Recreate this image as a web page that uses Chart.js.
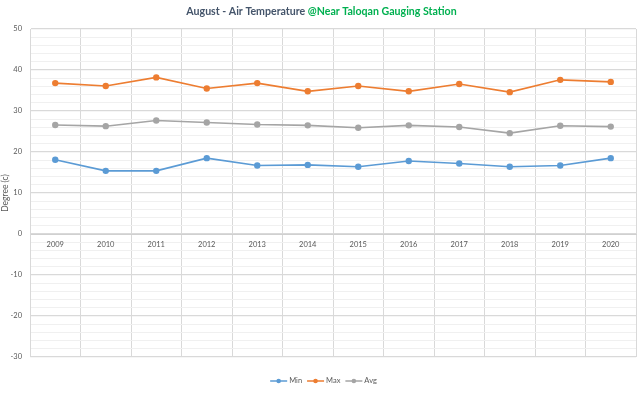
<!DOCTYPE html>
<html>
<head>
<meta charset="utf-8">
<script src="https://cdn.jsdelivr.net/npm/chart.js@4/dist/chart.umd.min.js"></script>
<style>
html,body{margin:0;padding:0;background:#fff;}
#wrap{width:643px;height:393px;position:relative;}
</style>
</head>
<body>
<div id="wrap"><canvas id="c" width="643" height="393"></canvas></div>
<script>
const years = ['2009','2010','2011','2012','2013','2014','2015','2016','2017','2018','2019','2020'];
const minVals = [18.1, 15.4, 15.4, 18.5, 16.7, 16.85, 16.4, 17.8, 17.2, 16.4, 16.7, 18.5];
const maxVals = [36.8, 36.1, 38.2, 35.5, 36.8, 34.8, 36.1, 34.8, 36.6, 34.6, 37.6, 37.1];
const avgVals = [26.6, 26.3, 27.7, 27.2, 26.7, 26.5, 25.9, 26.5, 26.1, 24.6, 26.4, 26.2];
const titleMain = 'August - Air Temperature ';
const titleSub = '@Near Taloqan Gauging Station';
const yTitle = 'Degree (c)';

const FONT = 'Lato, "Open Sans", sans-serif';

const titlePlugin = {
  id: 'twoTone',
  afterDraw(chart) {
    const ctx = chart.ctx;
    ctx.save();
    ctx.font = 'bold 10.6px ' + FONT;
    ctx.textBaseline = 'middle';
    ctx.textAlign = 'left';
    const w1 = ctx.measureText(titleMain).width;
    const w2 = ctx.measureText(titleSub).width;
    const cx = chart.width / 2;
    let x = cx - (w1 + w2) / 2;
    ctx.fillStyle = '#44546a';
    ctx.fillText(titleMain, x, 12);
    ctx.fillStyle = '#00b050';
    ctx.fillText(titleSub, x + w1, 12);
    ctx.restore();
  }
};

const legendPlugin = {
  id: 'lineLegend',
  afterDraw(chart) {
    const ctx = chart.ctx;
    ctx.save();
    ctx.font = '7.5px ' + FONT;
    ctx.textBaseline = 'middle';
    const items = chart.data.datasets;
    const lineW = 17, gap = 2, spacing = 5;
    let total = 0;
    const widths = items.map(d => ctx.measureText(d.label).width);
    items.forEach((d, i) => { total += lineW + gap + widths[i] + (i < items.length - 1 ? spacing : 0); });
    let x = chart.width / 2 + 2 - total / 2;
    const y = 381;
    items.forEach((d, i) => {
      ctx.strokeStyle = d.borderColor;
      ctx.lineWidth = 1.5;
      ctx.beginPath();
      ctx.moveTo(x, y);
      ctx.lineTo(x + lineW, y);
      ctx.stroke();
      ctx.fillStyle = d.borderColor;
      ctx.beginPath();
      ctx.arc(x + lineW / 2, y, 2.3, 0, Math.PI * 2);
      ctx.fill();
      ctx.fillStyle = '#595959';
      ctx.fillText(d.label, x + lineW + gap, y);
      x += lineW + gap + widths[i] + spacing;
    });
    ctx.restore();
  }
};

const mk = (label, data, color) => ({
  label, data,
  borderColor: color, backgroundColor: color,
  pointBackgroundColor: color, pointBorderColor: color,
  borderWidth: 1.6, pointRadius: 2.4, pointHoverRadius: 2.4,
  tension: 0, fill: false
});

new Chart(document.getElementById('c'), {
  type: 'line',
  data: {
    labels: years,
    datasets: [
      mk('Min', minVals, '#5b9bd5'),
      mk('Max', maxVals, '#ed7d31'),
      mk('Avg', avgVals, '#a5a5a5')
    ]
  },
  options: {
    responsive: false,
    animation: false,
    events: [],
    layout: { padding: { top: 29, right: 7, bottom: 36, left: 0 } },
    plugins: { legend: { display: false }, title: { display: false }, tooltip: { enabled: false } },
    scales: {
      x: {
        type: 'category',
        position: { y: 0 },
        offset: true,
        grid: { offset: true, color: '#d9d9d9', lineWidth: 1, drawTicks: false },
        border: { display: true, color: '#d0d0d0' },
        ticks: { color: '#595959', font: { family: FONT, size: 7.5 }, padding: 6, maxRotation: 0, autoSkip: false },
        afterFit(s) { s.height = 0; }
      },
      y: {
        min: -30, max: 50,
        grid: {
          color: c => (c.tick && c.tick.value % 10 === 0) ? '#d9d9d9' : '#f0f0f0',
          lineWidth: c => (c.tick && c.tick.value % 10 === 0) ? 1.2 : 1,
          drawTicks: false
        },
        border: { display: true, color: '#d9d9d9' },
        ticks: {
          stepSize: 2,
          autoSkip: false,
          color: '#595959',
          font: { family: FONT, size: 7.5 },
          padding: 8,
          callback: v => (v % 10 === 0 ? String(v) : '')
        },
        title: { display: true, text: yTitle, color: '#595959', font: { family: FONT, size: 8.5 }, padding: { top: 0, bottom: 2 } },
        afterFit(s) { s.width = 30; }
      }
    }
  },
  plugins: [titlePlugin, legendPlugin]
});
</script>
</body>
</html>
